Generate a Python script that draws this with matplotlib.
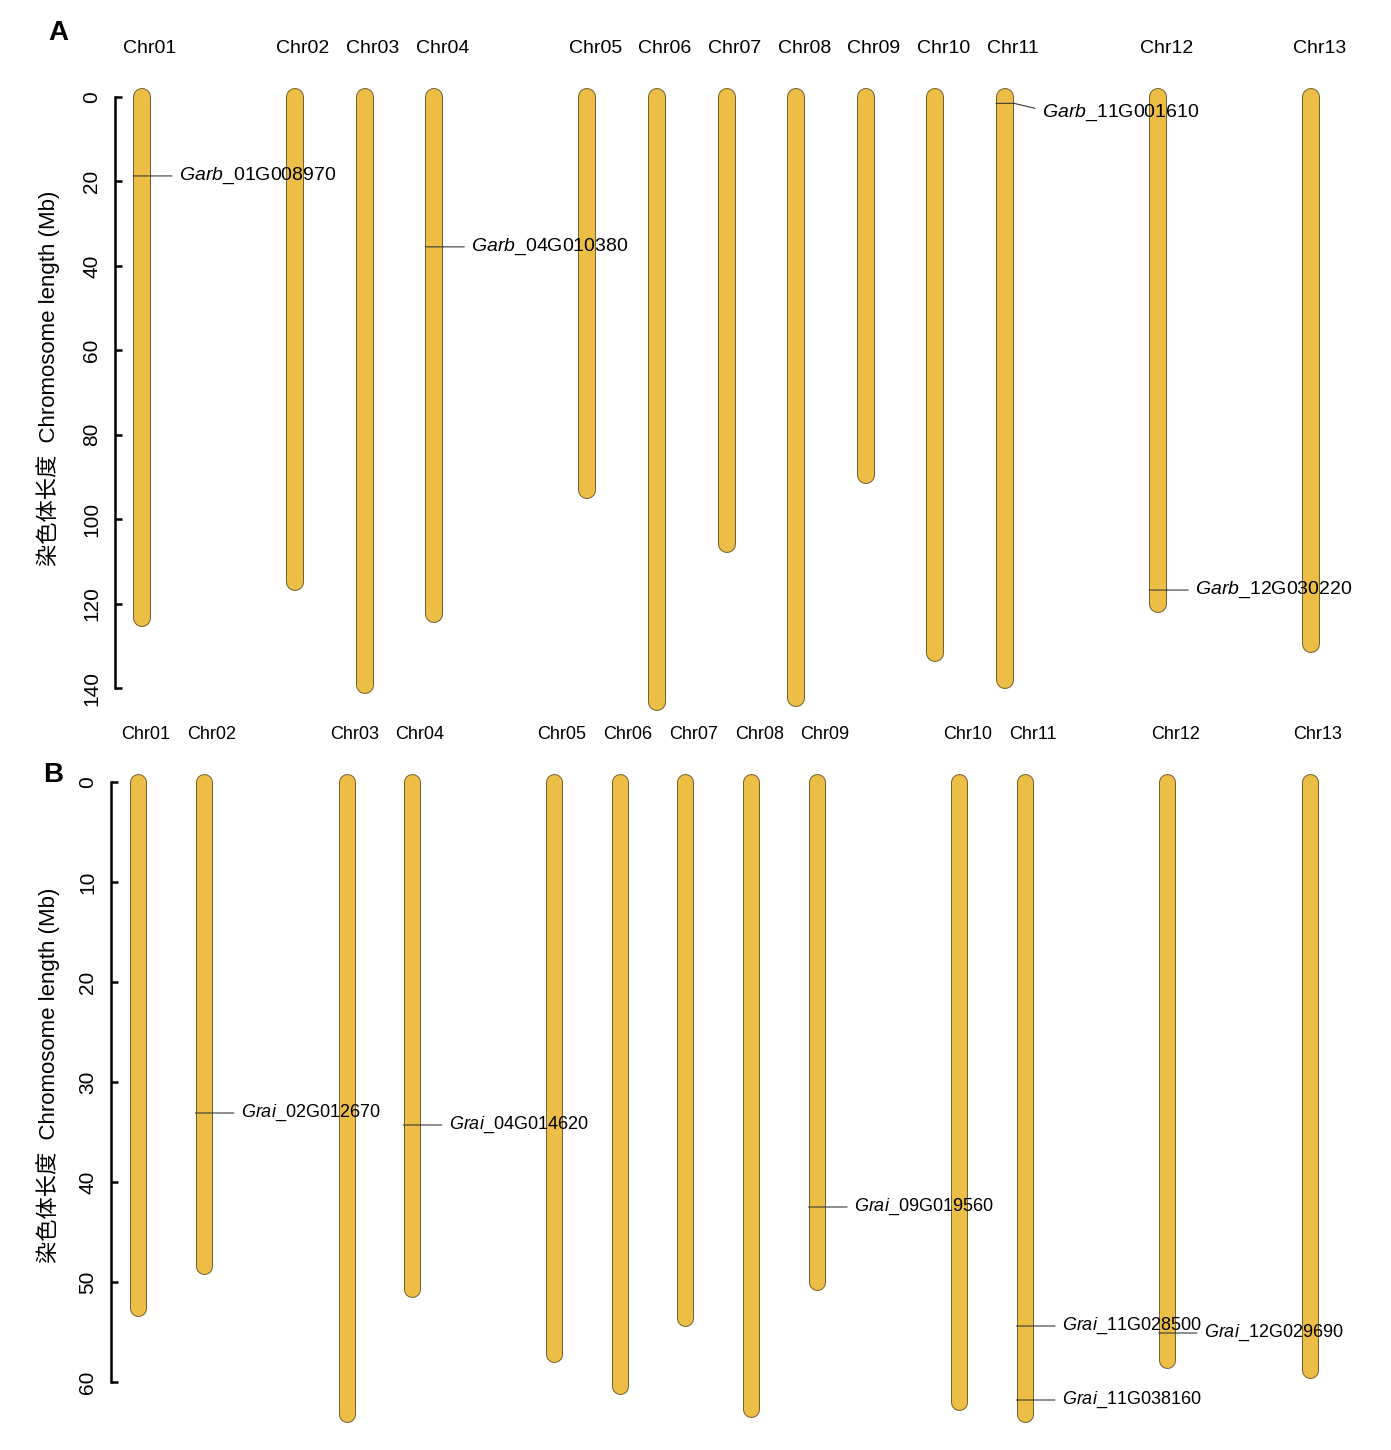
import numpy as np
import matplotlib
matplotlib.use("Agg")
import matplotlib.pyplot as plt
from matplotlib.transforms import offset_copy

plt.rcParams['font.family'] = ['Liberation Sans', 'Noto Sans CJK SC', 'DejaVu Sans']
plt.rcParams['mathtext.fontset'] = 'custom'
plt.rcParams['mathtext.it'] = 'Liberation Sans:italic'
plt.rcParams['mathtext.rm'] = 'Liberation Sans'

# ---- data (Mb) ----
chroms = ["Chr01", "Chr02", "Chr03", "Chr04", "Chr05", "Chr06", "Chr07",
          "Chr08", "Chr09", "Chr10", "Chr11", "Chr12", "Chr13"]

# G. arboreum (panel A)
len_a = [123.5, 115.0, 139.2, 122.4, 93.0, 143.4, 106.0,
         142.4, 89.5, 131.8, 138.0, 120.0, 129.5]
genes_a = ["Garb_01G008970", "Garb_04G010380", "Garb_11G001610", "Garb_12G030220"]
genes_a_chr = ["Chr01", "Chr04", "Chr11", "Chr12"]
genes_a_pos = [18.7, 35.5, 1.5, 116.8]

# G. raimondii (panel B)
len_b = [52.6, 48.4, 63.2, 50.7, 57.2, 60.4, 53.6,
         62.7, 50.0, 62.0, 63.2, 57.8, 58.8]
genes_b = ["Grai_02G012670", "Grai_04G014620", "Grai_09G019560",
           "Grai_11G028500", "Grai_11G038160", "Grai_12G029690"]
genes_b_chr = ["Chr02", "Chr04", "Chr09", "Chr11", "Chr11", "Chr12"]
genes_b_pos = [33.1, 34.3, 42.5, 54.4, 61.8, 55.1]

# ---- layout ----
W, H = 1391, 1450
slot_a = [0, 2.2, 3.2, 4.2, 6.4, 7.4, 8.4, 9.4, 10.4, 11.4, 12.4, 14.6, 16.8]
slot_b = [0, 1, 3.17, 4.16, 6.32, 7.32, 8.32, 9.32, 10.32, 12.48, 13.48, 15.64, 17.81]

FILL = '#ecbe45'
EDGE = '#76602f'
LINE = '#3a3a3a'

fig = plt.figure(figsize=(W / 100, H / 100), dpi=100)


def fancy(name):
    sp, rest = name.split("_", 1)
    return r"$\mathit{" + sp + "}$_" + rest


def draw_panel(rect, xlim, ymax, step, lengths, slots, genes, gchr, gpos,
               label_y, letter, letter_xy, ylab_y, width_px, fs, label_shift=None):
    ax = fig.add_axes(rect)
    ax.set_xlim(*xlim)
    ax.set_ylim(ymax, 0)
    for s in ['top', 'right', 'bottom']:
        ax.spines[s].set_visible(False)
    ax.spines['left'].set_linewidth(1.8)
    ax.spines['left'].set_bounds(0, ymax)
    ax.set_xticks([])
    ax.set_yticks(np.arange(0, ymax + 1, step))
    ax.tick_params(axis='y', direction='in', length=5, width=1.8,
                   labelsize=15, pad=10)
    for lbl in ax.get_yticklabels():
        lbl.set_rotation(90)
        lbl.set_va('center')

    lw_out = width_px * 0.72
    lw_in = (width_px - 2) * 0.72
    for name, L, x in zip(chroms, lengths, slots):
        ax.plot([x, x], [0, L], color=EDGE, lw=lw_out, solid_capstyle='round',
                clip_on=False, zorder=2)
        ax.plot([x, x], [0, L], color=FILL, lw=lw_in, solid_capstyle='round',
                clip_on=False, zorder=3)
        ax.text(x, label_y, name, fontsize=fs, ha='center', va='center',
                transform=offset_copy(ax.transData, fig=fig, x=8, y=0, units='dots'),
                clip_on=False)

    half = width_px / 2
    for g, c, p in zip(genes, gchr, gpos):
        x = slots[chroms.index(c)]
        dy_text, dy_line = 0, 0
        if label_shift and g in label_shift:
            dy_text = label_shift[g]
            dy_line = dy_text + 4
        t_left = offset_copy(ax.transData, fig=fig, x=-half, y=0, units='dots')
        t_right = offset_copy(ax.transData, fig=fig, x=half, y=0, units='dots')
        t_end = offset_copy(ax.transData, fig=fig, x=30, y=dy_line, units='dots')
        ax.annotate("", xy=(x, p), xycoords=t_left, xytext=(x, p), textcoords=t_right,
                    arrowprops=dict(arrowstyle='-', color=LINE, lw=0.8,
                                    shrinkA=0, shrinkB=0), zorder=4)
        ax.annotate("", xy=(x, p), xycoords=t_right, xytext=(x, p), textcoords=t_end,
                    arrowprops=dict(arrowstyle='-', color=LINE, lw=0.8,
                                    shrinkA=0, shrinkB=0), zorder=4)
        ax.text(x, p, fancy(g), fontsize=fs, ha='left', va='center', zorder=5,
                transform=offset_copy(ax.transData, fig=fig, x=37, y=dy_text, units='dots'),
                clip_on=False)

    fig.text(letter_xy[0] / W, 1 - letter_xy[1] / H, letter, fontsize=20,
             fontweight='bold', ha='center', va='center')
    fig.text(48 / W, 1 - ylab_y / H, "染色体长度  Chromosome length (Mb)",
             fontsize=16, rotation=90, ha='center', va='center')
    return ax


# panel A: spine at x=115 px, 0 Mb at y=97 px, 140 Mb at y=688 px
unit_a = 69.6
xa0 = (115 - 142) / unit_a
draw_panel([115 / W, 1 - 688 / H, (W - 115) / W, (688 - 97) / H],
           (xa0, xa0 + (W - 115) / unit_a), 140, 20, len_a, slot_a,
           genes_a, genes_a_chr, genes_a_pos, -11.6, "A", (58, 33), 378, 18, 14,
           label_shift={"Garb_11G001610": -9})

# panel B: spine at x=111 px, 0 Mb at y=782 px, 60 Mb at y=1382 px
unit_b = 65.8
xb0 = (111 - 138) / unit_b
draw_panel([111 / W, 1 - 1382 / H, (W - 111) / W, 600 / H],
           (xb0, xb0 + (W - 111) / unit_b), 60, 10, len_b, slot_b,
           genes_b, genes_b_chr, genes_b_pos, -4.7, "B", (53, 775), 1075, 17, 13)

fig.savefig("out.png", dpi=100)
